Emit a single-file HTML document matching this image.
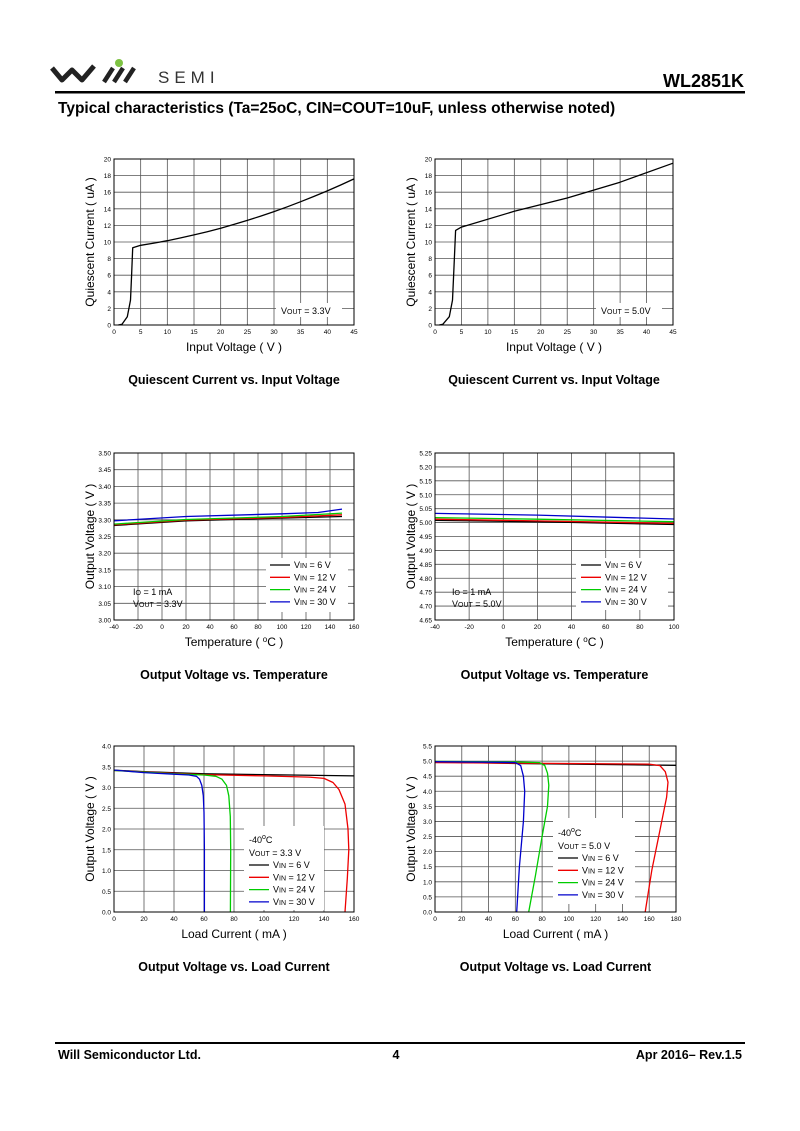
<!DOCTYPE html>
<html><head><meta charset="utf-8"><style>
body{margin:0;background:#fff;width:800px;height:1131px;overflow:hidden;font-family:"Liberation Sans",Arial,sans-serif}
svg{position:absolute;left:0;top:0}
</style></head><body>
<svg id="s" width="800" height="1131" xmlns="http://www.w3.org/2000/svg" font-family="Liberation Sans, Arial, sans-serif">
<g>
<path d="M52 68 L62 80 L72 70 L82 80 L94 66" stroke="#222" stroke-width="5" fill="none" stroke-linejoin="round"/>
<path d="M104 82 L113 68 M114 82 L123 68 M125 82 L134 68" stroke="#222" stroke-width="4.5"/>
<circle cx="119" cy="63" r="4" fill="#7dc242"/>
<text x="158" y="83" font-size="17" letter-spacing="5" fill="#333">SEMI</text>
<text x="744" y="87" font-size="18" font-weight="bold" text-anchor="end">WL2851K</text>
<rect x="55" y="91" width="690" height="2.5" fill="#000"/>
<text x="58" y="113" font-size="15.5" font-weight="bold">Typical characteristics (Ta=25oC, CIN=COUT=10uF, unless otherwise noted)</text>
<rect x="55" y="1042" width="690" height="2" fill="#000"/>
<text x="58" y="1059" font-size="12.5" font-weight="bold">Will Semiconductor Ltd.</text>
<text x="396" y="1059" font-size="12.5" font-weight="bold" text-anchor="middle">4</text>
<text x="742" y="1059" font-size="12.5" font-weight="bold" text-anchor="end">Apr 2016– Rev.1.5</text>
</g>
<g id="c"></g>
</svg>
<script>
var g=document.getElementById('c'),h='';
function chart(o){
 var X0=o.x0,X1=o.x1,Y0=o.y0,Y1=o.y1;
 function px(v){return X0+(v-o.xmin)/(o.xmax-o.xmin)*(X1-X0)}
 function py(v){return Y1-(v-o.ymin)/(o.ymax-o.ymin)*(Y1-Y0)}
 h+='<rect x="'+X0+'" y="'+Y0+'" width="'+(X1-X0)+'" height="'+(Y1-Y0)+'" fill="#fff"/>';
 for(var i=0;i<=o.nx;i++){var v=o.xmin+i*(o.xmax-o.xmin)/o.nx,x=px(v);
  h+='<line x1="'+x+'" y1="'+Y0+'" x2="'+x+'" y2="'+Y1+'" stroke="#555" stroke-width="0.8"/>';
  h+='<text x="'+x+'" y="'+(Y1+9)+'" font-size="6.5" text-anchor="middle">'+(o.fx?o.fx(v):Math.round(v))+'</text>';}
 for(var i=0;i<=o.ny;i++){var v=o.ymin+i*(o.ymax-o.ymin)/o.ny,y=py(v);
  h+='<line x1="'+X0+'" y1="'+y+'" x2="'+X1+'" y2="'+y+'" stroke="#555" stroke-width="0.8"/>';
  h+='<text x="'+(X0-3)+'" y="'+(y+2.5)+'" font-size="6.5" text-anchor="end">'+(o.fy?o.fy(v):Math.round(v))+'</text>';}
 if(o.box)h+='<rect x="'+o.box[0]+'" y="'+o.box[1]+'" width="'+o.box[2]+'" height="'+o.box[3]+'" fill="#fff"/>';
 o.series.forEach(function(s){var d='';s.pts.forEach(function(p,i){d+=(i?'L':'M')+px(p[0]).toFixed(1)+' '+py(p[1]).toFixed(1)});
  h+='<path d="'+d+'" stroke="'+s.c+'" stroke-width="1.3" fill="none" stroke-linejoin="round"/>';});
 h+='<rect x="'+X0+'" y="'+Y0+'" width="'+(X1-X0)+'" height="'+(Y1-Y0)+'" fill="none" stroke="#000" stroke-width="1"/>';
 h+='<text x="'+(X0+X1)/2+'" y="'+(Y1+26)+'" font-size="12" text-anchor="middle">'+o.xl+'</text>';
 h+='<text transform="translate('+(X0-20)+','+(Y0+Y1)/2+') rotate(-90)" font-size="12" text-anchor="middle">'+o.yl+'</text>';
 h+='<text x="'+(X0+X1)/2+'" y="'+(Y1+59)+'" font-size="12.5" font-weight="bold" text-anchor="middle">'+o.t+'</text>';
 if(o.extra)h+=o.extra;
}
function iq(a,b,k){var p=[[0.8,0],[1.5,0.1],[2.5,1],[3.1,3],[3.3,6],[3.5,a]];for(var v=5;v<=45;v+=2.5)p.push([v,a+0.3+(v-5)*k+(v-5)*(v-5)*b]);return p}
var sub='<tspan font-size="7">';
chart({x0:114,x1:354,y0:159,y1:325,xmin:0,xmax:45,ymin:0,ymax:20,nx:9,ny:10,xl:'Input Voltage ( V )',yl:'Quiescent Current ( uA )',t:'Quiescent Current vs. Input Voltage',
 box:[276,303,66,14],series:[{c:'#000',pts:iq(9.3,0.0025,0.1)}],extra:'<text x="281" y="314" font-size="9">V'+sub+'OUT</tspan> = 3.3V</text>'});
chart({x0:435,x1:673,y0:159,y1:325,xmin:0,xmax:45,ymin:0,ymax:20,nx:9,ny:10,xl:'Input Voltage ( V )',yl:'Quiescent Current ( uA )',t:'Quiescent Current vs. Input Voltage',
 box:[596,303,66,14],series:[{c:'#000',pts:[[0.8,0],[1.5,0.1],[2.7,1],[3.3,3],[3.6,7],[3.9,11.4],[5,11.8],[15,13.7],[25,15.3],[35,17.2],[45,19.5]]}],extra:'<text x="601" y="314" font-size="9">V'+sub+'OUT</tspan> = 5.0V</text>'});
function f2(v){return v.toFixed(2)}
function lg(x,y,items){var s='';items.forEach(function(it,i){var yy=y+i*12.3;s+='<line x1="'+x+'" y1="'+(yy-3)+'" x2="'+(x+20)+'" y2="'+(yy-3)+'" stroke="'+it[0]+'" stroke-width="1.3"/><text x="'+(x+24)+'" y="'+yy+'" font-size="9">V'+sub+'IN</tspan> = '+it[1]+'</text>'});return s}
var L=[['#000','6 V'],['#e00','12 V'],['#0c0','24 V'],['#00c','30 V']];
function lin(a,b,c){return [[-40,a],[20,b],[100,c]]}
chart({x0:114,x1:354,y0:453,y1:620,xmin:-40,xmax:160,ymin:3,ymax:3.5,nx:10,ny:10,fy:f2,xl:'Temperature ( <tspan font-size="8" dy="-4">o</tspan><tspan dy="4">C )</tspan>',yl:'Output Voltage ( V )',t:'Output Voltage vs. Temperature',
 box:[266,558,82,54],series:[
 {c:'#000',pts:[[-40,3.283],[20,3.297],[100,3.305],[150,3.31]]},
 {c:'#e00',pts:[[-40,3.285],[20,3.299],[100,3.307],[150,3.315]]},
 {c:'#0c0',pts:[[-40,3.287],[20,3.301],[100,3.31],[150,3.32]]},
 {c:'#00c',pts:[[-40,3.297],[20,3.31],[100,3.318],[130,3.322],[150,3.332]]}],
 extra:lg(270,568,L)+'<text x="133" y="595" font-size="9">I'+sub+'O</tspan> = 1 mA</text><text x="133" y="607" font-size="9">V'+sub+'OUT</tspan> = 3.3V</text>'});
chart({x0:435,x1:674,y0:453,y1:620,xmin:-40,xmax:100,ymin:4.65,ymax:5.25,nx:7,ny:12,fy:f2,xl:'Temperature ( <tspan font-size="8" dy="-4">o</tspan><tspan dy="4">C )</tspan>',yl:'Output Voltage ( V )',t:'Output Voltage vs. Temperature',
 box:[576,558,92,52],series:[
 {c:'#000',pts:lin(5.008,5.003,4.993)},{c:'#e00',pts:lin(5.012,5.006,4.997)},{c:'#0c0',pts:lin(5.018,5.012,5.003)},{c:'#00c',pts:lin(5.033,5.027,5.013)}],
 extra:lg(581,568,L)+'<text x="452" y="595" font-size="9">I'+sub+'O</tspan> = 1 mA</text><text x="452" y="607" font-size="9">V'+sub+'OUT</tspan> = 5.0V</text>'});
chart({x0:114,x1:354,y0:746,y1:912,xmin:0,xmax:160,ymin:0,ymax:4,nx:8,ny:8,fy:function(v){return v.toFixed(1)},xl:'Load Current ( mA )',yl:'Output Voltage ( V )',t:'Output Voltage vs. Load Current',
 box:[244,826,80,84],series:[
 {c:'#000',pts:[[0,3.42],[20,3.38],[60,3.33],[160,3.28]]},
 {c:'#e00',pts:[[0,3.41],[60,3.31],[100,3.28],[130,3.25],[140,3.22],[146,3.12],[150,2.95],[154,2.6],[156,2.0],[156.5,1.5],[155.5,0.8],[154,0]]},
 {c:'#0c0',pts:[[0,3.41],[40,3.33],[60,3.3],[68,3.27],[72,3.2],[75,3.05],[76.5,2.8],[77.5,2.3],[77.8,1.5],[77.6,0]]},
 {c:'#00c',pts:[[0,3.42],[20,3.36],[40,3.32],[50,3.3],[55,3.27],[57,3.2],[58.5,3.05],[59.5,2.8],[60,2.4],[60.3,1.5],[60.3,0]]}],
 extra:'<text x="249" y="843" font-size="9">-40<tspan font-size="7" dy="-4">o</tspan><tspan dy="4">C</tspan></text><text x="249" y="856" font-size="9">V'+sub+'OUT</tspan> = 3.3 V</text>'+lg(249,868,L)});
chart({x0:435,x1:676,y0:746,y1:912,xmin:0,xmax:180,ymin:0,ymax:5.5,nx:9,ny:11,fy:function(v){return v.toFixed(1)},xl:'Load Current ( mA )',yl:'Output Voltage ( V )',t:'Output Voltage vs. Load Current',
 box:[553,818,82,86],series:[
 {c:'#000',pts:[[0,4.97],[60,4.92],[180,4.86]]},
 {c:'#e00',pts:[[0,4.95],[100,4.92],[160,4.9],[168,4.85],[172,4.65],[174,4.3],[173,3.8],[168,2.7],[162,1.4],[157,0]]},
 {c:'#0c0',pts:[[0,4.99],[60,4.97],[78,4.95],[82,4.85],[84,4.6],[85,4.2],[84,3.5],[80,2.5],[75,1.2],[70,0]]},
 {c:'#00c',pts:[[0,4.98],[50,4.96],[60,4.95],[64,4.85],[66,4.5],[67,4],[66,3],[63,1.5],[61,0]]}],
 extra:'<text x="558" y="836" font-size="9">-40<tspan font-size="7" dy="-4">o</tspan><tspan dy="4">C</tspan></text><text x="558" y="849" font-size="9">V'+sub+'OUT</tspan> = 5.0 V</text>'+lg(558,861,L)});
g.innerHTML=h;
</script>
</body></html>
